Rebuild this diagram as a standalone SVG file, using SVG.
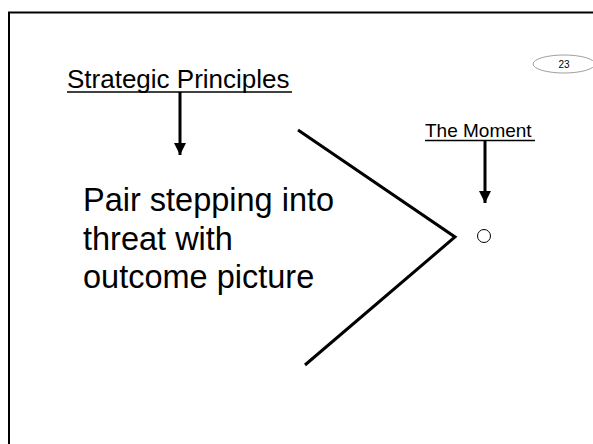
<svg xmlns="http://www.w3.org/2000/svg" width="593" height="444" viewBox="0 0 593 444">
  <style>
    .t { font-family: "Liberation Sans", Arial, sans-serif; fill: #000; }
    .ln { stroke: #000; stroke-width: 3; fill: none; }
    .ul { stroke: #000; stroke-width: 1.5; }
  </style>
  <defs>
    <marker id="ah" viewBox="0 0 10 10" refX="10" refY="5" markerWidth="4" markerHeight="4" markerUnits="strokeWidth" orient="auto">
      <path d="M0,0 L10,5 L0,10 Z" fill="#000"/>
    </marker>
  </defs>
  <rect width="593" height="444" fill="#fff"/>
  <!-- slide frame -->
  <rect x="9" y="12.5" width="600" height="450" fill="none" stroke="#000" stroke-width="2"/>

  <!-- page number badge -->
  <g id="page-number">
    <ellipse cx="564" cy="64" rx="31" ry="9" fill="none" stroke="#888" stroke-width="0.8"/>
    <text class="t" x="564" y="68" font-size="10" text-anchor="middle">23</text>
  </g>

  <g id="strategic-principles">
    <text class="t" x="67" y="88" font-size="26">Strategic Principles</text>
    <line class="ul" x1="67" y1="92" x2="292" y2="92"/>
  </g>

  <g id="pair-stepping">
    <text class="t" font-size="32.5">
      <tspan x="83" y="211">Pair stepping into</tspan>
      <tspan x="83" y="250">threat with</tspan>
      <tspan x="83" y="288">outcome picture</tspan>
    </text>
  </g>

  <g id="the-moment">
    <text class="t" x="425" y="137" font-size="19">The Moment</text>
    <line class="ul" x1="425" y1="140.5" x2="535" y2="140.5" stroke-width="1.2"/>
  </g>

  <g id="moment-point">
    <circle cx="484" cy="236" r="6.5" fill="none" stroke="#000" stroke-width="1"/>
  </g>

  <g id="connectors">
    <line class="ln" x1="180" y1="92" x2="180" y2="155" marker-end="url(#ah)"/>
    <line class="ln" x1="485" y1="140" x2="485" y2="203" marker-end="url(#ah)"/>
    <polyline class="ln" points="298,130 455,237 305,365"/>
  </g>
</svg>
